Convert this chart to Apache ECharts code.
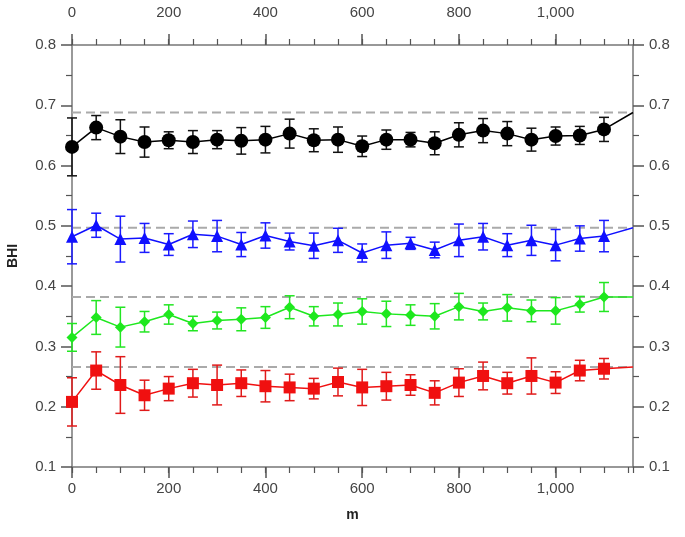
<!DOCTYPE html>
<html>
<head>
<meta charset="utf-8">
<script src="https://cdn.jsdelivr.net/npm/echarts@6/dist/echarts.min.js"></script>
<style>
  html, body { margin: 0; padding: 0; background: #fff; }
  #chart1 { width: 685px; height: 537px; }
</style>
</head>
<body>
<div id="chart1"></div>
<script>
// x positions of the measurements (m)
var xs = [0, 50, 100, 150, 200, 250, 300, 350, 400, 450, 500, 550, 600, 650, 700, 750, 800, 850, 900, 950, 1000, 1050, 1100];

var blackY = [0.631, 0.663, 0.648, 0.639, 0.642, 0.639, 0.643, 0.641, 0.643, 0.653, 0.642, 0.643, 0.632, 0.643, 0.643, 0.637, 0.651, 0.658, 0.653, 0.643, 0.649, 0.650, 0.660];
var blackErr = [0.048, 0.020, 0.028, 0.025, 0.014, 0.019, 0.015, 0.022, 0.022, 0.024, 0.019, 0.021, 0.017, 0.016, 0.012, 0.019, 0.020, 0.020, 0.020, 0.019, 0.015, 0.015, 0.020];

var blueY = [0.482, 0.501, 0.478, 0.480, 0.469, 0.486, 0.483, 0.469, 0.484, 0.474, 0.467, 0.476, 0.455, 0.468, 0.471, 0.460, 0.476, 0.482, 0.468, 0.476, 0.468, 0.479, 0.483];
var blueErr = [0.045, 0.020, 0.038, 0.024, 0.018, 0.022, 0.026, 0.020, 0.021, 0.014, 0.021, 0.020, 0.015, 0.022, 0.010, 0.013, 0.027, 0.022, 0.019, 0.025, 0.026, 0.021, 0.026];

var greenY = [0.315, 0.348, 0.332, 0.341, 0.353, 0.338, 0.343, 0.345, 0.348, 0.365, 0.350, 0.353, 0.358, 0.354, 0.352, 0.350, 0.366, 0.358, 0.364, 0.359, 0.359, 0.370, 0.382];
var greenErr = [0.023, 0.028, 0.033, 0.017, 0.016, 0.012, 0.014, 0.019, 0.018, 0.019, 0.016, 0.019, 0.021, 0.021, 0.017, 0.021, 0.022, 0.014, 0.022, 0.018, 0.022, 0.013, 0.024];

var redY = [0.208, 0.260, 0.236, 0.219, 0.230, 0.239, 0.236, 0.239, 0.234, 0.232, 0.230, 0.241, 0.232, 0.234, 0.236, 0.223, 0.240, 0.251, 0.239, 0.251, 0.240, 0.260, 0.263];
var redErr = [0.040, 0.031, 0.047, 0.025, 0.020, 0.023, 0.033, 0.022, 0.026, 0.022, 0.017, 0.023, 0.030, 0.023, 0.017, 0.020, 0.023, 0.023, 0.018, 0.030, 0.018, 0.017, 0.017];

// dashed reference levels (the lines run out to them at the right edge)
var refLevels = [0.688, 0.497, 0.382, 0.266];

var xMax = 1160;

var myChart1 = echarts.init(document.getElementById('chart1'));

function lineData(ys, level) {
    var d = xs.map(function (x, i) { return [x, ys[i]]; });
    d.push({ value: [xMax, level], symbol: 'none' });
    return d;
}

function errData(ys, errs) {
    return xs.map(function (x, i) { return [x, ys[i] - errs[i], ys[i] + errs[i]]; });
}

function errSeries(ys, errs, color) {
    return {
        type: 'custom',
        data: errData(ys, errs),
        encode: { x: 0, y: [1, 2] },
        z: 2,
        silent: true,
        renderItem: function (params, api) {
            var x = api.value(0);
            var top = api.coord([x, api.value(2)]);
            var bot = api.coord([x, api.value(1)]);
            var w = 5;
            var st = { stroke: color, lineWidth: 1.5 };
            return {
                type: 'group',
                children: [
                    { type: 'line', shape: { x1: top[0], y1: top[1], x2: bot[0], y2: bot[1] }, style: st },
                    { type: 'line', shape: { x1: top[0] - w, y1: top[1], x2: top[0] + w, y2: top[1] }, style: st },
                    { type: 'line', shape: { x1: bot[0] - w, y1: bot[1], x2: bot[0] + w, y2: bot[1] }, style: st }
                ]
            };
        }
    };
}

function mainSeries(ys, level, color, symbol, size) {
    return {
        type: 'line',
        data: lineData(ys, level),
        symbol: symbol,
        symbolSize: size,
        showAllSymbol: true,
        z: 3,
        itemStyle: { color: color },
        lineStyle: { color: color, width: 1.5 }
    };
}

function refSeries(level) {
    return {
        type: 'line',
        data: [[0, level], [xMax, level]],
        symbol: 'none',
        z: 1,
        silent: true,
        lineStyle: { color: '#aaaaaa', width: 2, type: [9, 5] }
    };
}

var labelFont = { color: '#444', fontSize: 15, fontFamily: 'Liberation Sans, Arial, sans-serif' };

function majorX(pos) {
    return {
        type: 'value', position: pos, min: 0, max: xMax, interval: 200,
        axisLine: { show: true, onZero: false, lineStyle: { color: '#777', width: 1.5 } },
        axisTick: { show: true, inside: false, length: 11, lineStyle: { color: '#555', width: 1.5 } },
        axisLabel: Object.assign({
            margin: pos === 'top' ? 25 : 14,
            showMaxLabel: false,
            formatter: function (v) { return v.toLocaleString('en-US'); }
        }, labelFont),
        splitLine: { show: false }
    };
}

function minorX(pos) {
    return {
        type: 'value', position: pos, min: 0, max: xMax, interval: 50,
        axisLine: { show: false, onZero: false },
        axisTick: { show: true, length: 6, lineStyle: { color: '#555', width: 1.2 } },
        axisLabel: { show: false },
        splitLine: { show: false }
    };
}

function yAx(pos) {
    return {
        type: 'value', position: pos, min: 0.1, max: 0.8, interval: 0.1,
        axisLine: { show: true, onZero: false, lineStyle: { color: '#777', width: 1.5 } },
        axisTick: { show: true, length: 11, lineStyle: { color: '#555', width: 1.5 } },
        minorTick: { show: true, splitNumber: 2, length: 6, lineStyle: { color: '#555', width: 1.2 } },
        axisLabel: Object.assign({
            margin: 16,
            formatter: function (v) { return v.toFixed(1); }
        }, labelFont),
        splitLine: { show: false }
    };
}

var xBottom = majorX('bottom');
xBottom.name = 'm';
xBottom.nameLocation = 'middle';
xBottom.nameGap = 41;
xBottom.nameTextStyle = { color: '#222', fontSize: 14, fontWeight: 'bold', fontFamily: 'Liberation Sans, Arial, sans-serif' };

var yLeft = yAx('left');
yLeft.name = 'BHI';
yLeft.nameLocation = 'middle';
yLeft.nameGap = 52;
yLeft.nameTextStyle = { color: '#222', fontSize: 14, fontWeight: 'bold', fontFamily: 'Liberation Sans, Arial, sans-serif' };

var option = {
    animation: false,
    backgroundColor: '#fff',
    grid: { left: 72, right: 52, top: 45, bottom: 70, containLabel: false, outerBoundsMode: 'none' },
    xAxis: [xBottom, minorX('bottom'), majorX('top'), minorX('top')],
    yAxis: [yLeft, yAx('right')],
    series: [
        refSeries(refLevels[0]),
        refSeries(refLevels[1]),
        refSeries(refLevels[2]),
        refSeries(refLevels[3]),
        errSeries(blackY, blackErr, '#111'),
        errSeries(blueY, blueErr, '#1a1aff'),
        errSeries(greenY, greenErr, '#22e622'),
        errSeries(redY, redErr, '#e01a1a'),
        mainSeries(blackY, refLevels[0], '#000', 'circle', 14),
        mainSeries(blueY, refLevels[1], '#1010ff', 'triangle', 12),
        mainSeries(greenY, refLevels[2], '#1ee81e', 'diamond', 11),
        mainSeries(redY, refLevels[3], '#f01010', 'rect', 12)
    ]
};

myChart1.setOption(option);
</script>
</body>
</html>
